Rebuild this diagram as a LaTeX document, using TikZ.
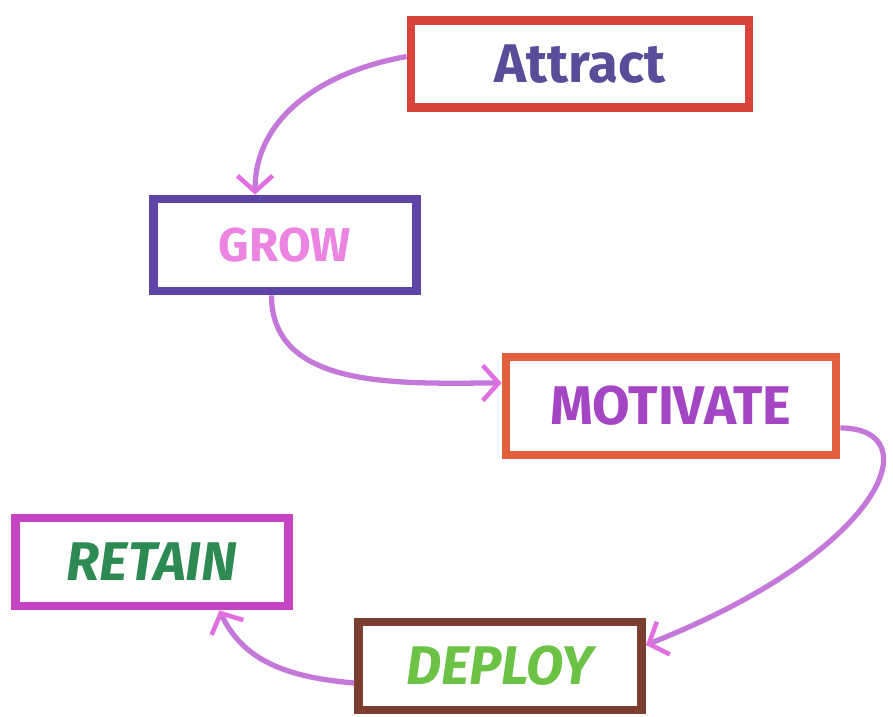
\documentclass[tikz,border=0pt]{standalone}
\usepackage{fontspec}
\setmainfont{Fira Sans}
\usepackage{tikz}
\usetikzlibrary{arrows.meta,positioning,calc}
\usepackage{xcolor}

\definecolor{attractred}{HTML}{D8443C}
\definecolor{attracttxt}{HTML}{5A4C98}
\definecolor{growblue}{HTML}{5E44A6}
\definecolor{growtxt}{HTML}{EC84E2}
\definecolor{motivorange}{HTML}{E2603E}
\definecolor{motivtxt}{HTML}{A446C4}
\definecolor{retainpink}{HTML}{C444C4}
\definecolor{retaintxt}{HTML}{2C8A52}
\definecolor{deploybrown}{HTML}{7C3E30}
\definecolor{deploytxt}{HTML}{6CC244}
\definecolor{connviolet}{HTML}{C478DA}
\definecolor{tippink}{HTML}{E070E0}

\tikzset{
  stage/.style={draw, line width=5pt, fill=white, inner sep=0pt,
    font=\fontsize{31}{35}\selectfont\bfseries},
  link/.style={draw=connviolet, line width=3pt,
    -{Straight Barb[length=9pt,width=20pt,color=tippink,line width=2.6pt]}}
}

\begin{document}
\begin{tikzpicture}[x=0.02cm,y=-0.02cm]
            \useasboundingbox (0,0) rectangle (893,717);
            % boxes
            \node[stage, draw=attractred, text=attracttxt, minimum width=6.76cm, minimum height=1.74cm] (attract) at (580,64) {Attract};
            \node[stage, draw=growblue, text=growtxt, minimum width=5.26cm, minimum height=1.84cm,
              font=\fontsize{27}{31}\selectfont\bfseries] (grow) at (285,245) {GROW};
            \node[stage, draw=motivorange, text=motivtxt, minimum width=6.6cm, minimum height=1.96cm] (motivate) at (671,406) {MOTIVATE};
            \node[stage, draw=retainpink, text=retaintxt, minimum width=5.46cm, minimum height=1.76cm] (retain) at (152,562) {\itshape RETAIN};
            \node[stage, draw=deploybrown, text=deploytxt, minimum width=5.66cm, minimum height=1.76cm] (deploy) at (500,666) {\itshape DEPLOY};

            % connectors
            \draw[link] ([yshift=0.15cm]attract.west) to[out=190,in=90] ([xshift=-0.6cm]grow.north);
            \draw[link] ([xshift=-0.27cm]grow.south) to[out=-90,in=180] ([yshift=0.46cm]motivate.west);
            \draw[link] ([yshift=-0.44cm]motivate.east) .. controls +(1.8cm,0) and +(4.8cm,1.9cm) .. ([yshift=0.42cm]deploy.east);
            \draw[link] ([yshift=-0.34cm]deploy.west) to[out=175,in=-65] ([xshift=1.35cm]retain.south);
        \end{tikzpicture}
\end{document}
